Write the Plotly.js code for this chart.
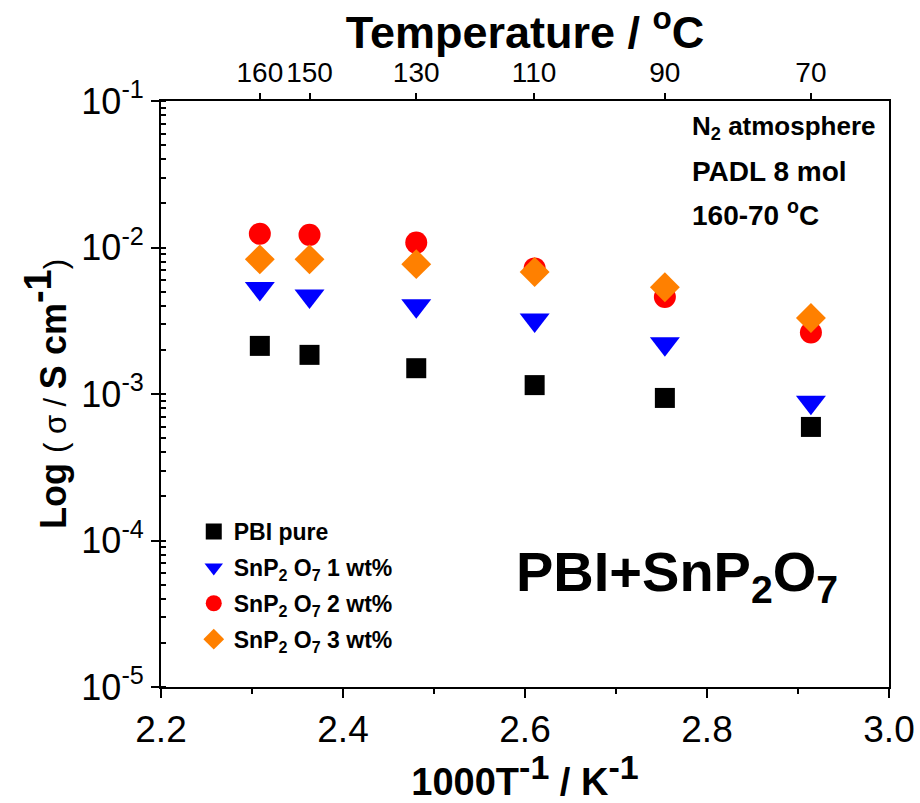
<!DOCTYPE html>
<html><head><meta charset="utf-8">
<script src="https://cdn.plot.ly/plotly-3.0.1.min.js"></script>
<style>body{margin:0;background:#fff}#c{width:920px;height:803px}</style>
</head><body><div id="c"></div>
<script>
const tempsC = [160, 150, 130, 110, 90, 70];
const invT = [2.3086, 2.3632, 2.4805, 2.6106, 2.7537, 2.9142];
const pbiPure = [2.13e-3, 1.85e-3, 1.50e-3, 1.15e-3, 9.4e-4, 5.96e-4];
const sn1 = [5.25e-3, 4.67e-3, 4.0e-3, 3.2e-3, 2.2e-3, 8.8e-4];
const sn2 = [1.24e-2, 1.22e-2, 1.08e-2, 7.2e-3, 4.6e-3, 2.63e-3];
const sn3 = [8.3e-3, 8.3e-3, 7.7e-3, 6.8e-3, 5.35e-3, 3.3e-3];
const names = ['PBI pure', 'SnP<sub>2</sub> O<sub>7</sub> 1 wt%', 'SnP<sub>2</sub> O<sub>7</sub> 2 wt%', 'SnP<sub>2</sub> O<sub>7</sub> 3 wt%'];
const yTickVals = [1e-5, 1e-4, 1e-3, 1e-2, 1e-1];
const yTickText = ['10<sup>-5</sup>', '10<sup>-4</sup>', '10<sup>-3</sup>', '10<sup>-2</sup>', '10<sup>-1</sup>'];

const narrow = '"Liberation Sans Narrow", "Arial Narrow", "Liberation Sans", Arial, sans-serif';
const arial = '"Liberation Sans", Arial, sans-serif';

const series = [pbiPure, sn1, sn2, sn3];
const symbols = ['square', 'triangle-down', 'circle', 'diamond'];
const colors = ['#000000', '#0000ff', '#ff0000', '#ff8000'];
const sizes = [20, 26, 22, 23];
const traces = series.map((s, i) => ({
  x: invT, y: s, type: 'scatter', mode: 'markers',
  name: '<b>' + names[i] + '</b>', legendgroup: 'g' + i,
  marker: {symbol: symbols[i], color: colors[i], size: sizes[i], line: {width: 0}},
  xaxis: 'x', yaxis: 'y'
}));
traces.push({x: invT, y: pbiPure, xaxis: 'x2', yaxis: 'y', mode: 'markers',
  marker: {opacity: 0}, showlegend: false, hoverinfo: 'skip'});

const layout = {
  width: 920, height: 803,
  margin: {l: 161, r: 31, t: 101, b: 116},
  paper_bgcolor: '#fff', plot_bgcolor: '#fff',
  showlegend: true,
  legend: {x: 0.045, y: 0.302, xanchor: 'left', yanchor: 'top', bgcolor: 'rgba(0,0,0,0)',
    font: {family: arial, size: 23, color: '#000'}, tracegroupgap: 3, itemwidth: 30},
  xaxis: {range: [2.2, 3.0], dtick: 0.2, tick0: 2.2, tickformat: '.1f',
    showline: true, linecolor: '#000', linewidth: 2, mirror: false,
    ticks: 'outside', ticklen: 9, tickwidth: 2, tickcolor: '#000',
    minor: {dtick: 0.1, ticks: 'outside', ticklen: 5, tickwidth: 2, tickcolor: '#000'},
    showgrid: false, zeroline: false,
    tickfont: {family: arial, size: 37, color: '#000'},
    title: {text: '<b>1000T<sup><span style="font-size:34px">-1</span></sup> / K<sup><span style="font-size:34px">-1</span></sup></b>', font: {family: narrow, size: 38, color: '#000'}, standoff: 10}
  },
  xaxis2: {overlaying: 'x', side: 'top', range: [2.2, 3.0],
    tickvals: tempsC.map(t => 1000 / (t + 273.15)), ticktext: tempsC.map(String),
    showline: true, linecolor: '#000', linewidth: 2,
    ticks: 'outside', ticklen: 6, tickwidth: 2, tickcolor: '#000',
    showgrid: false, zeroline: false,
    tickfont: {family: narrow, size: 28, color: '#000'},
    title: {text: '<b>Temperature / <sup>o</sup>C</b>', font: {family: narrow, size: 45, color: '#000'}, standoff: 2}
  },
  yaxis: {type: 'log', range: [-5, -1], tickvals: yTickVals, ticktext: yTickText,
    showline: true, linecolor: '#000', linewidth: 2, mirror: true,
    ticks: 'outside', ticklen: 8, tickwidth: 2, tickcolor: '#000',
    minor: {ticks: 'inside', ticklen: 5, tickwidth: 2, tickcolor: '#000', dtick: 'D1'},
    showgrid: false, zeroline: false,
    tickfont: {family: arial, size: 36, color: '#000'},
    title: {text: '<b>Log</b> <span style="font-size:31px">( σ / </span><b>S cm<sup><span style="font-size:38px">-1</span></sup></b><span style="font-size:31px">)</span>',
      font: {family: arial, size: 36, color: '#000'}, standoff: 4}
  },
  annotations: [
    {xref: 'paper', yref: 'paper', x: 0.727, y: 0.954, xanchor: 'left', yanchor: 'middle', showarrow: false,
     text: '<b>N<sub>2</sub> atmosphere</b>', font: {family: arial, size: 26, color: '#000'}},
    {xref: 'paper', yref: 'paper', x: 0.727, y: 0.879, xanchor: 'left', yanchor: 'middle', showarrow: false,
     text: '<b>PADL 8 mol</b>', font: {family: arial, size: 28, color: '#000'}},
    {xref: 'paper', yref: 'paper', x: 0.727, y: 0.809, xanchor: 'left', yanchor: 'middle', showarrow: false,
     text: '<b>160-70 <sup>o</sup>C</b>', font: {family: arial, size: 28, color: '#000'}},
    {xref: 'paper', yref: 'paper', x: 0.485, y: 0.191, xanchor: 'left', yanchor: 'middle', showarrow: false,
     text: '<b>PBI+SnP<sub>2</sub>O<sub>7</sub></b>', font: {family: arial, size: 56, color: '#000'}}
  ]
};
Plotly.newPlot('c', traces, layout, {displayModeBar: false, staticPlot: true});
</script></body></html>
